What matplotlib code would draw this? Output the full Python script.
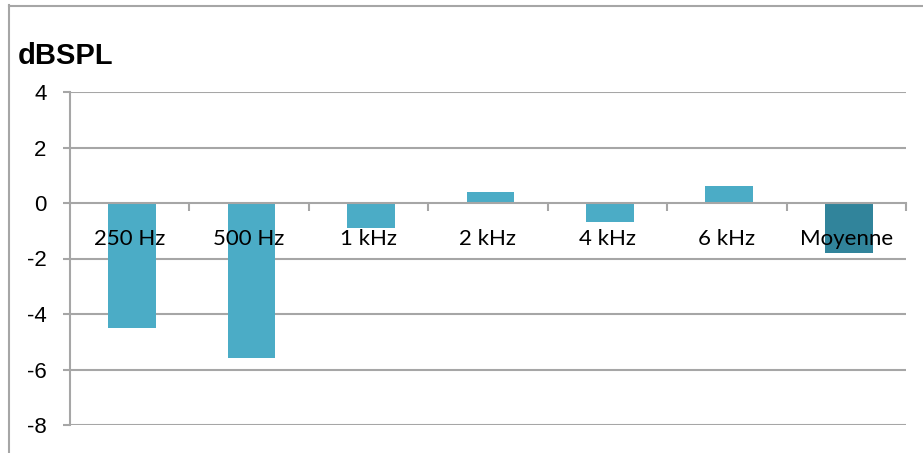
import matplotlib
matplotlib.use("Agg")
import matplotlib.pyplot as plt
from matplotlib.lines import Line2D
import numpy as np

categories = ["250 Hz", "500 Hz", "1 kHz", "2 kHz", "4 kHz", "6 kHz", "Moyenne"]
values = [-4.5, -5.6, -0.9, 0.4, -0.7, 0.6, -1.8]
y_ticks = [4, 2, 0, -2, -4, -6, -8]

W, H = 923, 453
fig = plt.figure(figsize=(W / 100, H / 100), dpi=100)
fig.patch.set_facecolor("white")

ax = fig.add_axes([70 / W, (H - 425) / H, (906 - 70) / W, (425 - 92) / H])

grid_col = "#A6A6A6"
bar_col = "#4BACC6"
avg_col = "#31849B"

x = np.arange(len(categories))
colors = [bar_col] * (len(categories) - 1) + [avg_col]
ax.bar(x + 0.02, values, width=0.4, color=colors, zorder=1.5)

ax.set_xlim(-0.5, len(categories) - 0.5)
ax.set_ylim(-8, 4)

# horizontal gridlines
for t in y_ticks:
    if t != 0:
        ax.axhline(t, color=grid_col, lw=1.5, zorder=1)

ax.set_yticks(y_ticks)
ax.set_yticklabels([str(t) for t in y_ticks], fontfamily="Liberation Sans", fontsize=16)
ax.tick_params(axis="y", direction="out", length=5, width=1.5, color=grid_col, pad=12)

# category axis sits on the zero line
for s in ["top", "right"]:
    ax.spines[s].set_visible(False)
ax.spines["left"].set_color(grid_col)
ax.spines["left"].set_linewidth(1.5)
ax.spines["bottom"].set_position(("data", 0))
ax.spines["bottom"].set_color(grid_col)
ax.spines["bottom"].set_linewidth(1.5)

ax.set_xticks(x)
ax.set_xticklabels(categories, fontfamily="Lato", fontsize=16)
ax.tick_params(axis="x", which="major", length=0, pad=19)
ax.set_xticks(np.arange(0.5, len(categories) - 0.5 + 0.01, 1.0), minor=True)
ax.tick_params(axis="x", which="minor", direction="out", length=6, width=1.5, color=grid_col)
ax.xaxis.set_zorder(3)

# unit label
fig.text(18 / W, 1 - 56 / H, "dBSPL", fontfamily="Liberation Sans", fontweight="bold",
         fontsize=21, ha="left", va="center")

# outer chart frame
fig.add_artist(Line2D([8.5 / W, 8.5 / W], [0, 1 - 5 / H], color=grid_col, lw=1.5,
                      transform=fig.transFigure))
fig.add_artist(Line2D([8.5 / W, 1], [1 - 5.5 / H, 1 - 5.5 / H], color=grid_col, lw=1.5,
                      transform=fig.transFigure))

fig.savefig("out.png", dpi=100)
